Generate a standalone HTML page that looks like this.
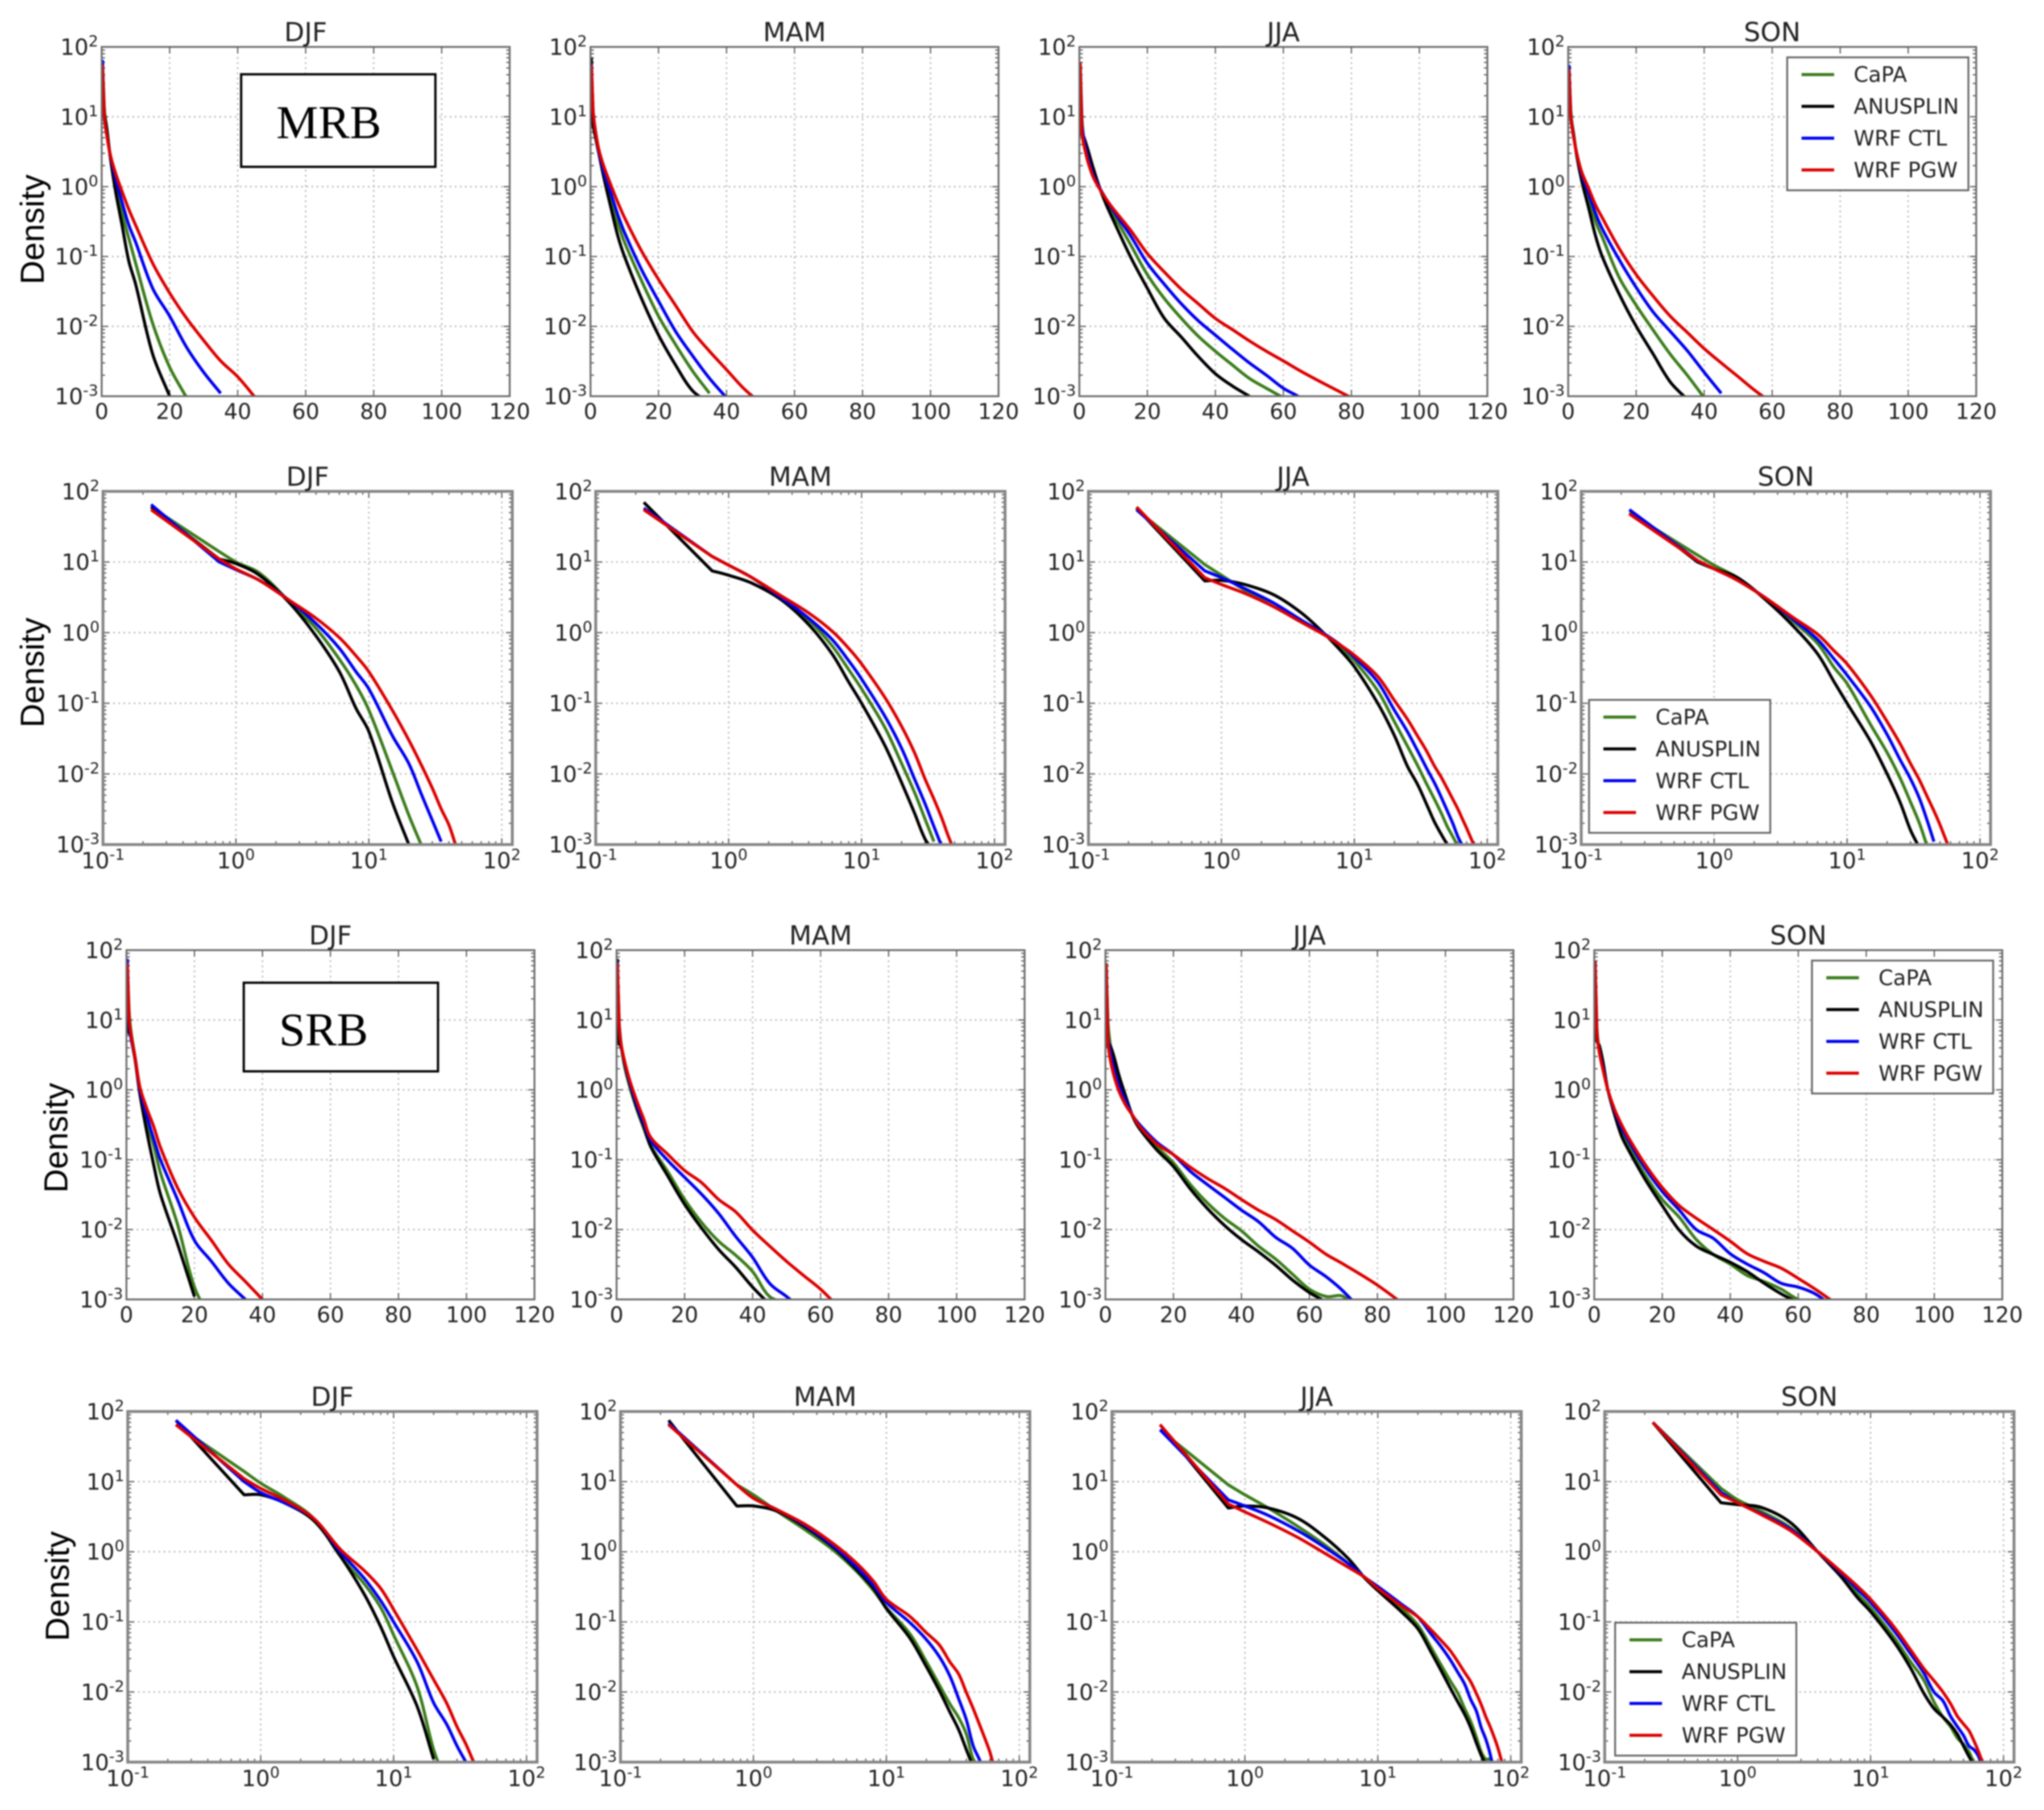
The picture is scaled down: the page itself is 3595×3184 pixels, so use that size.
<!DOCTYPE html>
<html lang="en">
<head>
<meta charset="utf-8">
<title>Precipitation density by season, MRB and SRB</title>
<style>
html,body{margin:0;padding:0;background:#fff;}
body{width:3595px;height:3184px;overflow:hidden;}
svg{display:block;filter:blur(1.2px);}
text{fill:#222;font-family:"DejaVu Sans","Liberation Sans",sans-serif;}
</style>
</head>
<body>
<svg id="fig" xmlns="http://www.w3.org/2000/svg" width="3595" height="3184" viewBox="0 0 3595 3184"></svg>
<script>
// ---------- shared axis data ----------
const precipBins=[0.23,0.75,1,1.5,2.5,4,6,8,10,15,20,25,30,35,40,45,50,55,60,65,70,80,90];
const seasons=['DJF','MAM','JJA','SON'];
const seriesNames=['CaPA','ANUSPLIN','WRF CTL','WRF PGW'];
const linearTickLabels=[0,20,40,60,80,100,120];
const logXExponents=[-1,0,1,2];
const logYExponents=[-3,-2,-1,0,1,2];

// ---------- MRB density values (aligned with precipBins) ----------
const mrbDjfCapa=[60,14,10,7,2.8,1.15,0.42,0.18,0.08,0.011,0.0026,0.00095];
const mrbDjfAnusplin=[60,11,9.5,6.5,2.7,0.9,0.28,0.085,0.04,0.004,0.001];
const mrbDjfCtl=[65,10,7.8,5.5,2.9,1.35,0.6,0.28,0.16,0.035,0.014,0.005,0.0022,0.0011];
const mrbDjfPgw=[55,11,8,5.5,2.9,1.6,0.85,0.47,0.28,0.08,0.03,0.013,0.0063,0.0032,0.0019,0.00098];

const mrbMamCapa=[55,12,9,6,3,1.5,0.65,0.3,0.16,0.045,0.014,0.0055,0.0023,0.0011];
const mrbMamAnusplin=[70,7.5,6.5,5,2.9,1.3,0.5,0.2,0.1,0.025,0.0075,0.0028,0.0012,0.0008];
const mrbMamCtl=[58,12,9,6,3.1,1.6,0.8,0.4,0.22,0.065,0.023,0.0085,0.0038,0.0018,0.00095];
const mrbMamPgw=[55,12,9,6,3.3,1.9,1.05,0.6,0.36,0.12,0.047,0.02,0.0085,0.0044,0.0024,0.0013,0.0008];

const mrbJjaCapa=[55,9.2,6.5,4,2.3,1.45,0.95,0.6,0.4,0.15,0.055,0.025,0.013,0.0072,0.0044,0.0028,0.0018,0.0013,0.00095];
const mrbJjaAnusplin=[58,5.4,5.5,4.8,3.4,1.9,0.95,0.54,0.33,0.1,0.035,0.013,0.007,0.0037,0.0021,0.0014,0.001];
const mrbJjaCtl=[55,7.5,6,4.2,2.6,1.5,0.95,0.65,0.45,0.2,0.08,0.04,0.021,0.012,0.0075,0.0047,0.003,0.002,0.0013,0.00095,0.0006];
const mrbJjaPgw=[60,6,4.8,3.6,2.3,1.4,0.92,0.65,0.48,0.24,0.11,0.06,0.034,0.021,0.013,0.009,0.0062,0.0044,0.0032,0.0023,0.0017,0.00095];

const mrbSonCapa=[50,12.5,9,6,2.9,1.4,0.7,0.32,0.19,0.05,0.02,0.0088,0.004,0.002,0.00095];
const mrbSonAnusplin=[55,10,8,6,2.8,1.2,0.5,0.2,0.1,0.029,0.01,0.004,0.0016,0.0009];
const mrbSonCtl=[55,10.5,8,5.5,3,1.5,0.8,0.42,0.25,0.09,0.036,0.016,0.0085,0.0045,0.0022,0.0011];
const mrbSonPgw=[48,10.5,8,5.5,3,1.6,0.95,0.55,0.36,0.13,0.055,0.027,0.014,0.0082,0.0048,0.003,0.0019,0.0012,0.0008];

// ---------- SRB density values (aligned with precipBins) ----------
const srbDjfCapa=[65,14,9.5,6,3,0.85,0.35,0.16,0.065,0.012,0.0015,0.0005];
const srbDjfAnusplin=[75,6.5,6.5,5,2.8,0.85,0.25,0.085,0.032,0.0063,0.0011];
const srbDjfCtl=[75,10,7,5,3,0.98,0.42,0.2,0.1,0.027,0.007,0.0035,0.0017,0.001];
const srbDjfPgw=[65,11,8,5.5,3,1.07,0.54,0.3,0.15,0.04,0.015,0.007,0.0032,0.0018,0.001];

const srbMamCapa=[65,9,6.5,3.8,2,1.05,0.52,0.28,0.16,0.068,0.027,0.0126,0.0068,0.0043,0.0025,0.0011,0.0009];
const srbMamAnusplin=[75,4.5,4.5,3.8,2.2,1.15,0.55,0.3,0.155,0.059,0.023,0.0105,0.0052,0.0029,0.0015,0.00085];
const srbMamCtl=[68,9,5.8,4,2.3,1.2,0.6,0.33,0.19,0.098,0.056,0.032,0.017,0.008,0.004,0.0017,0.0011,0.0007];
const srbMamPgw=[65,9,5.8,4,2.4,1.3,0.68,0.38,0.21,0.12,0.07,0.047,0.027,0.018,0.0098,0.0058,0.0035,0.0022,0.0014,0.0008];

const srbJjaCapa=[55,9,6.5,4.2,2.3,1.25,0.68,0.42,0.28,0.155,0.09,0.044,0.024,0.0145,0.0096,0.0058,0.0038,0.0023,0.0014,0.0011,0.0011,0.0004];
const srbJjaAnusplin=[65,4.2,4.5,4.2,3,1.6,0.8,0.42,0.28,0.14,0.08,0.038,0.02,0.0115,0.0072,0.0048,0.0031,0.0019,0.00125,0.0009,0.0005];
const srbJjaCtl=[55,5.5,4.5,3.3,2,1.15,0.68,0.43,0.32,0.18,0.118,0.068,0.044,0.029,0.019,0.013,0.0078,0.0054,0.0031,0.0021,0.0013,0.0004];
const srbJjaPgw=[65,4.8,3.7,2.6,1.6,0.95,0.6,0.43,0.3,0.17,0.118,0.078,0.054,0.039,0.027,0.019,0.014,0.0096,0.0066,0.0044,0.0032,0.0016,0.0007];

const srbSonCapa=[70,8,5.5,3.8,2.2,1,0.48,0.25,0.16,0.06,0.027,0.015,0.0072,0.0044,0.0032,0.0022,0.0018,0.0014,0.001,0.0009];
const srbSonAnusplin=[70,5,4.7,4.3,2.6,1,0.44,0.22,0.14,0.052,0.022,0.0098,0.0058,0.0044,0.0034,0.0025,0.0017,0.0012,0.0009];
const srbSonCtl=[70,7,5,3.5,2.1,1,0.5,0.29,0.19,0.075,0.035,0.019,0.01,0.0075,0.0045,0.0032,0.0024,0.0017,0.0015,0.0012,0.0008];
const srbSonPgw=[70,6.5,5,3.4,2,1,0.52,0.32,0.21,0.085,0.04,0.022,0.0145,0.01,0.0068,0.0045,0.0035,0.0028,0.002,0.0014,0.00095];

const mrbSeries=[[mrbDjfCapa,mrbDjfAnusplin,mrbDjfCtl,mrbDjfPgw],[mrbMamCapa,mrbMamAnusplin,mrbMamCtl,mrbMamPgw],[mrbJjaCapa,mrbJjaAnusplin,mrbJjaCtl,mrbJjaPgw],[mrbSonCapa,mrbSonAnusplin,mrbSonCtl,mrbSonPgw]];
const srbSeries=[[srbDjfCapa,srbDjfAnusplin,srbDjfCtl,srbDjfPgw],[srbMamCapa,srbMamAnusplin,srbMamCtl,srbMamPgw],[srbJjaCapa,srbJjaAnusplin,srbJjaCtl,srbJjaPgw],[srbSonCapa,srbSonAnusplin,srbSonCtl,srbSonPgw]];

// ---------- layout ----------
const S=3595/1568;
const seriesColors=['#3c7d1c','#000000','#0000f0','#dc0000'];
const rowLayout=[
 {region:'mrb',scale:'linear',top:36,bottom:304,lefts:[78,453,828,1203],w:313,series:mrbSeries,labelX:27,labelY:176,legendCol:3,legendLeft:1371,legendTop:44},
 {region:'mrb',scale:'log',top:377,bottom:648,lefts:[79,457,835,1213],w:314,series:mrbSeries,labelX:27,labelY:516,legendCol:3,legendLeft:1219,legendTop:537},
 {region:'srb',scale:'linear',top:729,bottom:997,lefts:[97,473,848,1223],w:313,series:srbSeries,labelX:45,labelY:873,legendCol:3,legendLeft:1390,legendTop:737},
 {region:'srb',scale:'log',top:1083,bottom:1352,lefts:[98,476,853,1231],w:314,series:srbSeries,labelX:46,labelY:1217,legendCol:3,legendLeft:1239,legendTop:1245}
];
const svg=document.getElementById('fig');
const NS='http://www.w3.org/2000/svg';
function make(tag,attrs,parent,txt){
  const n=document.createElementNS(NS,tag);
  for(const k in attrs)n.setAttribute(k,attrs[k]);
  if(txt!==undefined)n.textContent=txt;
  parent.appendChild(n);
  return n;
}
function powerText(parent,exp,x,y,anchor,name){
  const t=make('text',{x:x,y:y,'text-anchor':anchor,'font-size':39},parent);
  
  
  make('tspan',{},t,'10');
  make('tspan',{dy:-15,'font-size':27},t,String(exp));
  return t;
}
// Straight to the second bin (the sharp knee), then a smooth curve through the remaining bins.
function curvePath(p){
  let d='M'+p[0][0].toFixed(1)+' '+p[0][1].toFixed(1);
  if(p.length>1)d+='L'+p[1][0].toFixed(1)+' '+p[1][1].toFixed(1);
  const dir=i=>{
    const a=p[Math.max(i-1,1)],b=p[Math.min(i+1,p.length-1)];
    const dx=b[0]-a[0],dy=b[1]-a[1],m=Math.hypot(dx,dy)||1;
    return [dx/m,dy/m];
  };
  for(let i=1;i<p.length-1;i++){
    const a=p[i],b=p[i+1],len=Math.hypot(b[0]-a[0],b[1]-a[1])/3;
    const t0=dir(i),t1=dir(i+1);
    const c1=[a[0]+t0[0]*len,a[1]+t0[1]*len],c2=[b[0]-t1[0]*len,b[1]-t1[1]*len];
    d+='C'+c1[0].toFixed(1)+' '+c1[1].toFixed(1)+' '+c2[0].toFixed(1)+' '+c2[1].toFixed(1)+' '+b[0].toFixed(1)+' '+b[1].toFixed(1);
  }
  return d;
}
const minorMultipliers=[2,3,4,5,6,7,8,9];

rowLayout.forEach((row,ri)=>{
  row.lefts.forEach((leftO,ci)=>{
    const left=leftO*S,right=(leftO+row.w)*S,top=row.top*S,bottom=row.bottom*S;
    const frameW=row.scale==='log'?5:3.2;
    const frameC=row.scale==='log'?'#858585':'#6a6a6a';
    const yScale=d=>top+(2-Math.log10(d))/5*(bottom-top);
    const xLog=v=>left+(Math.log10(v)+1)/(Math.log10(120)+1)*(right-left);
    const xLin=v=>left+v/120*(right-left);
    const xScale=row.scale==='log'?xLog:xLin;
    const g=make('g',{},svg);
    
    
    const clipId='clip'+ri+'-'+ci;
    const cp=make('clipPath',{id:clipId},g);
    make('rect',{x:left,y:top,width:right-left,height:bottom-top},cp);
    // grid
    const xGridVals=row.scale==='log'?logXExponents.map(e=>Math.pow(10,e)):linearTickLabels;
    xGridVals.forEach(v=>{
      const x=xScale(v);
      const gl=make('line',{x1:x,x2:x,y1:top,y2:bottom,stroke:'#b8b8b8','stroke-width':2.6,'stroke-dasharray':'3 6'},g);
      
      
    });
    logYExponents.forEach(e=>{
      const y=yScale(Math.pow(10,e));
      const gl=make('line',{x1:left,x2:right,y1:y,y2:y,stroke:'#b8b8b8','stroke-width':2.6,'stroke-dasharray':'3 6'},g);
      
      
    });
    // ticks
    let tickD='';
    logYExponents.forEach(e=>{
      const y=yScale(Math.pow(10,e));
      tickD+='M'+left+' '+y+'h11M'+right+' '+y+'h-11';
      if(e<2)minorMultipliers.forEach(m=>{
        const ym=yScale(m*Math.pow(10,e));
        tickD+='M'+left+' '+ym+'h6M'+right+' '+ym+'h-6';
      });
    });
    xGridVals.forEach(v=>{
      const x=xScale(v);
      tickD+='M'+x+' '+top+'v11M'+x+' '+bottom+'v-11';
    });
    if(row.scale==='log'){
      logXExponents.forEach(e=>minorMultipliers.forEach(m=>{
        const v=m*Math.pow(10,e);
        if(v<=120){
          const x=xScale(v);
          tickD+='M'+x+' '+top+'v6M'+x+' '+bottom+'v-6';
        }
      }));
    }
    const tk=make('path',{d:tickD,fill:'none',stroke:'#555','stroke-width':2},g);
    
    
    // series
    const lines=make('g',{'clip-path':'url(#'+clipId+')'},g);
    
    
    row.series[ci].forEach((vals,si)=>{
      const pts=vals.map((d,i)=>[xScale(precipBins[i]),yScale(d)]);
      const pl=make('path',{d:curvePath(pts),fill:'none',stroke:seriesColors[si],'stroke-width':5.4,'stroke-linejoin':'round'},lines);
      
      
    });
    // frame
    const fr=make('rect',{x:left,y:top,width:right-left,height:bottom-top,fill:'none',stroke:frameC,'stroke-width':frameW},g);
    
    
    // title
    const tt=make('text',{x:(left+right)/2,y:top-10,'text-anchor':'middle','font-size':46},g,seasons[ci]);
    
    
    // y tick labels
    logYExponents.forEach(e=>{
      powerText(g,e,left-6,yScale(Math.pow(10,e))+14,'end','y-tick-label');
    });
    // x tick labels
    if(row.scale==='log'){
      logXExponents.forEach(e=>{
        powerText(g,e,xScale(Math.pow(10,e)),bottom+42,'middle','x-tick-label');
      });
    }else{
      linearTickLabels.forEach(v=>{
        const xl=make('text',{x:xScale(v),y:bottom+40,'text-anchor':'middle','font-size':38},g,String(v));
        
        
      });
    }
    // y title
    if(ci===0){
      const cy=row.labelY*S;
      const yt=make('text',{x:row.labelX*S,y:cy,'text-anchor':'middle','font-size':58,'dominant-baseline':'middle',transform:'rotate(-90 '+(row.labelX*S)+' '+cy+')',style:'font-family:"Liberation Sans",sans-serif;fill:#000'},g,'Density');
      
      
    }
    // legend
    if(ci===row.legendCol){
      const lx=row.legendLeft*S,ly=row.legendTop*S,lw=139*S,lh=102*S;
      const lg=make('g',{},g);
      
      
      const bx=make('rect',{x:lx,y:ly,width:lw,height:lh,fill:'#fff',stroke:'#666','stroke-width':3.2},lg);
      
      
      seriesNames.forEach((nm,si)=>{
        const ey=ly+(13.2+24.4*si)*S;
        const ll=make('line',{x1:lx+11*S,x2:lx+36*S,y1:ey,y2:ey,stroke:seriesColors[si],'stroke-width':5.4},lg);
        
        
        const lt=make('text',{x:lx+51*S,y:ey+13,'font-size':37},lg,nm);
        
        
      });
    }
  });
});

// ---------- region annotation boxes ----------
const regionBoxes=[{label:'MRB',x:185,y:57,w:149,h:71,tx:212,ty:106},{label:'SRB',x:187,y:754,w:149,h:68,tx:214,ty:802}];
regionBoxes.forEach(b=>{
  const g=make('g',{},svg);
  
  
  const r=make('rect',{x:b.x*S,y:b.y*S,width:b.w*S,height:b.h*S,fill:'#fff',stroke:'#000','stroke-width':4},g);
  
  
  const t=make('text',{x:b.tx*S,y:b.ty*S,'font-size':83,style:'font-family:"Liberation Serif",serif;fill:#000'},g,b.label);
  
  
});
</script>
</body>
</html>
